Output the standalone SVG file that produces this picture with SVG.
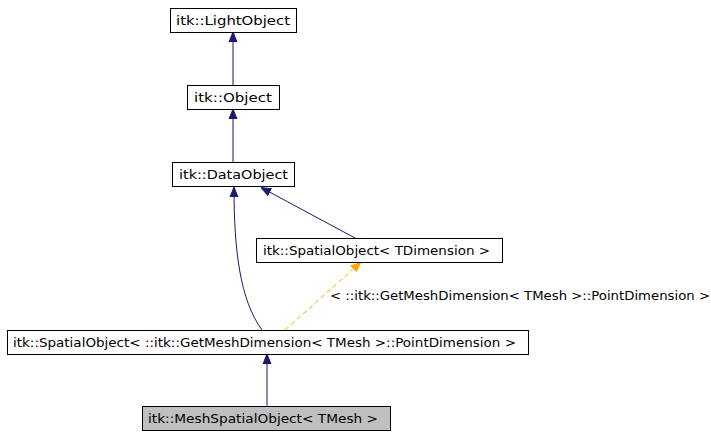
<svg xmlns="http://www.w3.org/2000/svg" width="711" height="437" viewBox="0 0 711 437">
<style>
.n rect{fill:#fff;stroke:#000;stroke-width:1}
text{font-family:"DejaVu Sans",sans-serif;font-size:12.5px;fill:#000}
.e{fill:none;stroke:#191970;stroke-width:1}
.d{fill:none;stroke:#ffa500;stroke-width:1;stroke-dasharray:5,3}
</style>
<defs>
<marker id="a" markerWidth="10" markerHeight="10" refX="9" refY="5" orient="auto" markerUnits="userSpaceOnUse"><path d="M0,1L10,5L0,9z" fill="#191970" stroke="#191970"/></marker>
<marker id="o" markerWidth="10" markerHeight="10" refX="9" refY="5" orient="auto" markerUnits="userSpaceOnUse"><path d="M0,1L10,5L0,9z" fill="#ffa500" stroke="#ffa500"/></marker>
</defs>
<rect width="711" height="437" fill="#fff"/>
<g id="edges">
<path class="e" d="M233,85V33" marker-end="url(#a)"/>
<path class="e" d="M233,162V110" marker-end="url(#a)"/>
<path class="e" d="M355,238L262,188" marker-end="url(#a)"/>
<path class="e" d="M262,330C240,300 234,250 234,188" marker-end="url(#a)"/>
<path class="d" d="M285,330L360,263" marker-end="url(#o)"/>
<text x="330" y="300" textLength="380" lengthAdjust="spacingAndGlyphs">&lt; ::itk::GetMeshDimension&lt; TMesh &gt;::PointDimension &gt;</text>
<path class="e" d="M267,406V355" marker-end="url(#a)"/>
</g>
<g id="n1" class="n"><rect x="170.5" y="8.5" width="126" height="24"/><text x="176" y="25" textLength="114" lengthAdjust="spacingAndGlyphs">itk::LightObject</text></g>
<g id="n2" class="n"><rect x="187.5" y="85.5" width="92" height="24"/><text x="194" y="102" textLength="78" lengthAdjust="spacingAndGlyphs">itk::Object</text></g>
<g id="n3" class="n"><rect x="172.5" y="162.5" width="122" height="24"/><text x="179" y="179" textLength="109" lengthAdjust="spacingAndGlyphs">itk::DataObject</text></g>
<g id="n4" class="n"><rect x="256.5" y="238.5" width="246" height="24"/><text x="263" y="255" textLength="227" lengthAdjust="spacingAndGlyphs">itk::SpatialObject&lt; TDimension &gt;</text></g>
<g id="n5" class="n"><rect x="7.5" y="330.5" width="521" height="24"/><text x="13" y="347" textLength="503" lengthAdjust="spacingAndGlyphs">itk::SpatialObject&lt; ::itk::GetMeshDimension&lt; TMesh &gt;::PointDimension &gt;</text></g>
<g id="n6" class="n"><rect x="142.5" y="406.5" width="248" height="24" style="fill:#bfbfbf"/><text x="148" y="423" textLength="230" lengthAdjust="spacingAndGlyphs">itk::MeshSpatialObject&lt; TMesh &gt;</text></g>
</svg>
